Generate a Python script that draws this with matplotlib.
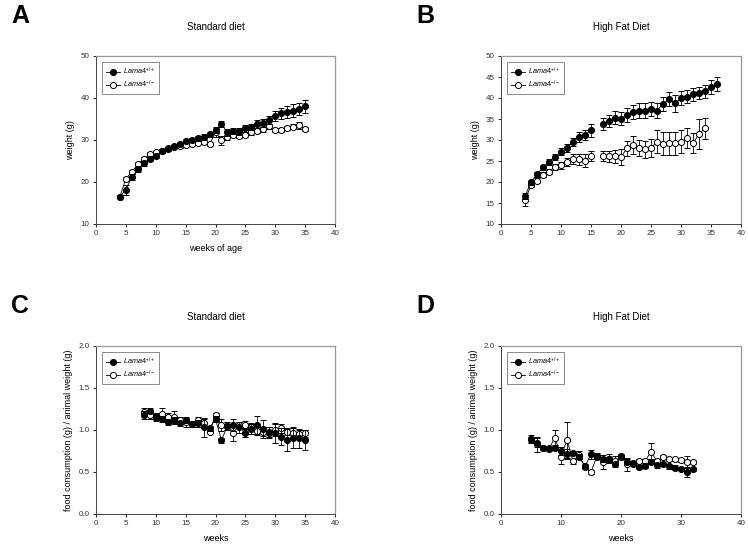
import numpy as np
import matplotlib
matplotlib.use("Agg")
import matplotlib.pyplot as plt
from matplotlib.lines import Line2D

plt.rcParams['font.family'] = ['Liberation Sans', 'DejaVu Sans']
plt.rcParams['mathtext.fontset'] = 'custom'
plt.rcParams['mathtext.it'] = 'Liberation Sans:italic'
plt.rcParams['mathtext.rm'] = 'Liberation Sans'

nan = np.nan

# ---- Panel A: Standard diet weight ----
weeks_a = list(range(4, 36))
a_wt = [16.5, 18.2, 21.2, 23.0, 24.5, 25.5, 26.2, 27.3, 27.9, 28.5, 29.1, 29.7, 30.0, 30.4,
        30.8, 31.4, 32.3, 33.8, 31.8, 32.2, 32.1, 32.8, 33.1, 33.8, 34.1, 34.8, 35.8, 36.4,
        36.7, 37.0, 37.4, 38.0]
a_wt_err = [0.4, 1.2, 0.7, 0.6, 0.6, 0.6, 0.5, 0.4, 0.4, 0.4, 0.4, 0.5, 0.5, 0.5,
            0.6, 0.6, 0.7, 0.7, 0.8, 0.7, 0.8, 0.8, 0.8, 0.9, 0.9, 1.0, 1.2, 1.3,
            1.5, 1.5, 1.5, 1.5]
a_ko = [16.5, 20.8, 22.4, 24.2, 25.5, 26.6, 27.1, 27.4, 28.0, 28.4, 28.6, 28.9, 29.1, 29.4,
        29.6, 29.0, 31.8, 29.9, 30.6, 31.2, 31.0, 31.3, 31.8, 32.2, 32.6, 33.3, 32.3, 32.4,
        32.8, 33.2, 33.5, 32.6]
a_ko_err = [0.4, 0.5, 0.5, 0.5, 0.5, 0.5, 0.4, 0.4, 0.4, 0.4, 0.4, 0.4, 0.4, 0.4,
            0.5, 0.5, 1.0, 1.0, 0.5, 0.5, 0.5, 0.5, 0.5, 0.5, 0.6, 0.6, 0.5, 0.5,
            0.5, 0.6, 0.8, 0.5]

# ---- Panel B: High fat diet weight ----
weeks_b = list(range(4, 37))
b_wt = [16.7, 19.9, 21.9, 23.5, 24.8, 26.0, 27.2, 28.1, 29.5, 30.8, 31.2, 32.3, nan, 33.8,
        34.6, 35.3, 35.1, 36.0, 36.7, 37.0, 37.0, 37.3, 37.0, 38.6, 39.7, 38.7, 40.0, 40.3,
        40.9, 41.2, 41.6, 42.6, 43.4]
b_wt_err = [0.7, 0.6, 0.6, 0.6, 0.7, 0.7, 0.8, 1.0, 1.0, 1.2, 1.3, 1.5, nan, 1.4,
            1.4, 1.5, 1.6, 1.7, 1.7, 1.7, 1.7, 1.7, 1.7, 1.7, 1.7, 2.0, 1.6, 1.6,
            1.5, 1.5, 1.6, 1.6, 1.7]
b_ko = [15.6, 19.3, 20.3, 21.7, 22.5, 23.6, 24.0, 24.8, 25.5, 25.4, 25.1, 26.3, nan, 26.2,
        26.1, 26.1, 26.0, 28.0, 28.8, 28.0, 27.8, 28.1, 29.6, 29.1, 29.2, 29.2, 29.6, 30.4,
        29.2, 31.4, 32.8, nan, nan]
b_ko_err = [1.3, 0.5, 0.6, 0.6, 0.7, 0.8, 0.8, 1.0, 1.2, 1.3, 1.5, 1.2, nan, 1.2,
            1.3, 1.5, 1.9, 1.8, 2.2, 1.9, 2.0, 2.2, 2.7, 2.7, 2.7, 2.7, 2.7, 2.4,
            2.4, 3.6, 2.5, nan, nan]

# ---- Panel C: Standard diet food consumption ----
weeks_c = list(range(8, 36))
c_wt = [1.18, 1.23, 1.16, 1.13, 1.09, 1.12, 1.08, 1.12, 1.07, 1.08, 1.03, 1.02, 1.13, 0.88,
        1.05, 1.06, 1.03, 0.97, 1.01, 1.06, 1.01, 0.97, 0.96, 0.92, 0.88, 0.91, 0.90, 0.88]
c_wt_err = [0.05, 0.03, 0.04, 0.04, 0.03, 0.04, 0.03, 0.04, 0.04, 0.04, 0.11, 0.03, 0.04, 0.03,
            0.05, 0.07, 0.06, 0.05, 0.06, 0.11, 0.11, 0.06, 0.12, 0.10, 0.13, 0.12, 0.11, 0.12]
c_ko = [1.22, 1.18, 1.15, 1.19, 1.16, 1.15, 1.12, 1.09, 1.07, 1.12, 1.08, 0.98, 1.18, 1.06,
        1.05, 0.97, 1.06, 1.06, 1.04, 0.99, 0.98, 0.98, 1.00, 1.02, 0.98, 0.97, 0.95, 0.96]
c_ko_err = [0.04, 0.05, 0.04, 0.07, 0.04, 0.08, 0.04, 0.05, 0.04, 0.04, 0.05, 0.02, 0.02, 0.07,
            0.05, 0.10, 0.04, 0.05, 0.04, 0.05, 0.05, 0.06, 0.07, 0.05, 0.04, 0.05, 0.05, 0.04]

# ---- Panel D: High fat diet food consumption ----
weeks_d = list(range(5, 33))
d_wt = [0.89, 0.85, 0.79, 0.77, 0.79, 0.75, 0.72, 0.73, 0.68, 0.57, 0.71, 0.68, 0.65, 0.65,
        0.59, 0.69, 0.62, 0.61, 0.56, 0.57, 0.62, 0.58, 0.59, 0.57, 0.55, 0.54, 0.50, 0.53]
d_wt_err = [0.03, 0.05, 0.02, 0.02, 0.03, 0.05, 0.05, 0.02, 0.03, 0.02, 0.05, 0.03, 0.03, 0.03,
            0.03, 0.02, 0.03, 0.02, 0.02, 0.02, 0.03, 0.03, 0.02, 0.03, 0.03, 0.02, 0.06, 0.02]
d_ko = [0.89, 0.83, 0.79, 0.78, 0.91, 0.68, 0.88, 0.63, 0.70, 0.56, 0.50, 0.69, 0.62, 0.66,
        0.63, 0.68, 0.59, 0.60, 0.63, 0.63, 0.74, 0.63, 0.68, 0.65, 0.65, 0.64, 0.62, 0.62]
d_ko_err = [0.05, 0.09, 0.02, 0.02, 0.09, 0.08, 0.22, 0.03, 0.05, 0.02, 0.02, 0.04, 0.08, 0.05,
            0.06, 0.02, 0.08, 0.02, 0.02, 0.03, 0.10, 0.03, 0.02, 0.02, 0.02, 0.02, 0.07, 0.02]

label_wt = r'$\mathit{Lama4}^{+/+}$'
label_ko = r'$\mathit{Lama4}^{-/-}$'

fig = plt.figure(figsize=(7.48, 5.44), dpi=100)

W, H = 748.0, 544.0
def pos(l, t, r, b):
    return [l / W, 1 - b / H, (r - l) / W, (b - t) / H]

panels = [
    dict(rect=pos(96, 56, 335, 224), x=weeks_a, y1=a_wt, e1=a_wt_err, y2=a_ko, e2=a_ko_err,
         ylim=(10, 50), yticks=[10, 20, 30, 40, 50], ylabel='weight (g)', xlabel='weeks of age',
         title='Standard diet', letter='A', yfmt='{:.0f}'),
    dict(rect=pos(501, 56, 741, 224), x=weeks_b, y1=b_wt, e1=b_wt_err, y2=b_ko, e2=b_ko_err,
         ylim=(10, 50), yticks=[10, 15, 20, 25, 30, 35, 40, 45, 50], ylabel='weight (g)', xlabel='',
         title='High Fat Diet', letter='B', yfmt='{:.0f}'),
    dict(rect=pos(96, 346, 335, 514), x=weeks_c, y1=c_wt, e1=c_wt_err, y2=c_ko, e2=c_ko_err,
         ylim=(0, 2), yticks=[0.0, 0.5, 1.0, 1.5, 2.0],
         ylabel='food consumption (g) / animal weight (g)', xlabel='weeks',
         title='Standard diet', letter='C', yfmt='{:.1f}'),
    dict(rect=pos(501, 346, 741, 514), x=weeks_d, y1=d_wt, e1=d_wt_err, y2=d_ko, e2=d_ko_err,
         ylim=(0, 2), yticks=[0.0, 0.5, 1.0, 1.5, 2.0],
         ylabel='food consumption (g) / animal weight (g)', xlabel='weeks',
         title='High Fat Diet', letter='D', yfmt='{:.1f}'),
]

for p in panels:
    ax = fig.add_axes(p['rect'])
    x = np.array(p['x'], dtype=float)
    y2 = np.array(p['y2'], dtype=float); e2 = np.array(p['e2'], dtype=float)
    y1 = np.array(p['y1'], dtype=float); e1 = np.array(p['e1'], dtype=float)
    ax.errorbar(x, y2, yerr=e2, color='black', lw=0.6, marker='o', ms=4.4,
                mfc='white', mec='black', mew=0.7, elinewidth=0.6, capsize=2.2, capthick=0.6,
                zorder=3)
    ax.errorbar(x, y1, yerr=e1, color='black', lw=0.6, marker='o', ms=4.4,
                mfc='black', mec='black', mew=0.7, elinewidth=0.6, capsize=2.2, capthick=0.6,
                zorder=4)
    ax.set_xlim(0, 40)
    ax.set_ylim(*p['ylim'])
    ax.set_xticks([0, 5, 10, 15, 20, 25, 30, 35, 40] if p['letter'] != 'D' else [0, 10, 20, 30, 40])
    ax.set_yticks(p['yticks'])
    ax.set_yticklabels([p['yfmt'].format(v) for v in p['yticks']])
    ax.tick_params(direction='out', length=2.5, width=0.6, labelsize=5.8,
                   labelcolor='#333333', pad=2)
    for s in ['left', 'bottom']:
        ax.spines[s].set_linewidth(0.7)
        ax.spines[s].set_color('#444444')
    for s in ['top', 'right']:
        ax.spines[s].set_linewidth(0.9)
        ax.spines[s].set_color('#999999')
    ax.set_ylabel(p['ylabel'], fontsize=6.5, labelpad=4)
    if p['xlabel']:
        ax.set_xlabel(p['xlabel'], fontsize=6.5, labelpad=5)
    handles = [
        Line2D([], [], color='black', lw=0.6, marker='o', ms=4.4, mfc='black', mec='black', mew=0.7),
        Line2D([], [], color='black', lw=0.6, marker='o', ms=4.4, mfc='white', mec='black', mew=0.7),
    ]
    leg = ax.legend(handles, [label_wt, label_ko], loc='upper left', fontsize=5.2, frameon=True,
                    fancybox=False, edgecolor='#555555', borderpad=0.55, handlelength=1.9,
                    handletextpad=0.45, bbox_to_anchor=(0.025, 0.965), labelspacing=0.25,
                    borderaxespad=0.0)
    leg.get_frame().set_linewidth(0.6)
    r = p['rect']
    cx = r[0] + r[2] / 2
    ty = r[1] + r[3] + 29 / H
    fig.text(cx, ty, p['title'], ha='center', va='center', fontsize=7)
    fig.text(r[0] - 85 / W, r[1] + r[3] + 40 / H, p['letter'], ha='left', va='center',
             fontsize=18, fontweight='bold')

fig.savefig('out.png', dpi=100)
